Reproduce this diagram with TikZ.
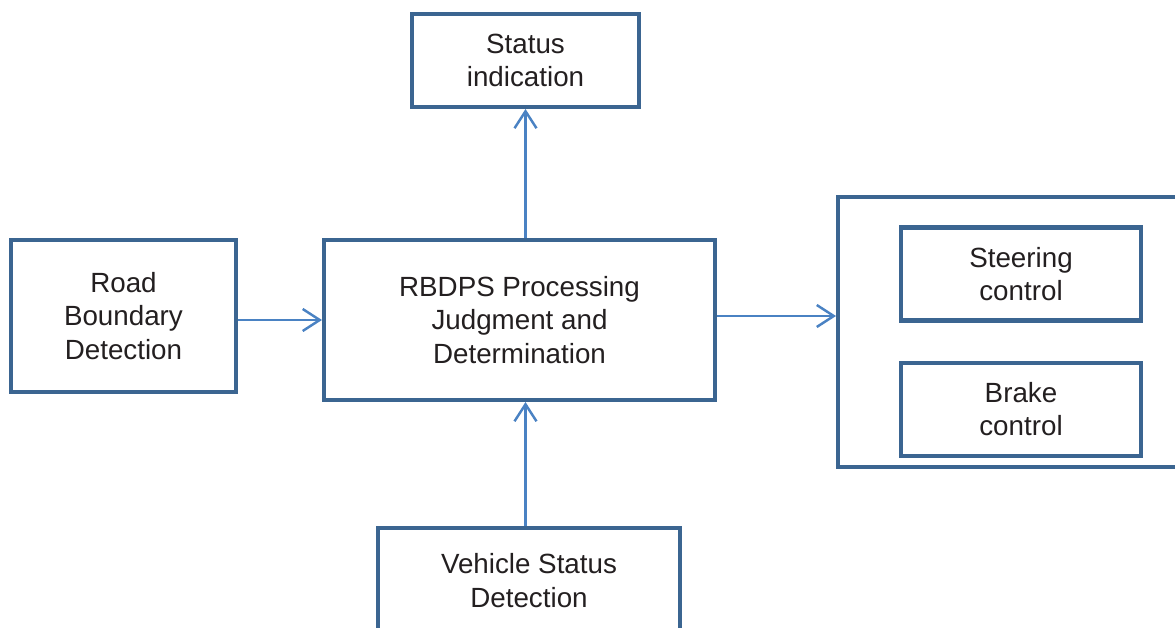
\documentclass[tikz,border=0pt]{standalone}
\usepackage{fontspec}
\setmainfont{Liberation Sans}
\usetikzlibrary{positioning,arrows.meta}

\definecolor{boxblue}{HTML}{3B6591}
\definecolor{arrowblue}{HTML}{4A82C3}
\definecolor{textgrey}{HTML}{231F20}

\tikzset{
    block/.style={draw=boxblue, line width=2.3pt, rectangle, inner sep=0pt,
        align=center, text=textgrey,
        font=\fontsize{15.8pt}{19pt}\selectfont},
    flow/.style={draw=arrowblue, line width=1.4pt,
        -{Straight Barb[length=0.34cm,width=0.44cm,line width=1.4pt]}},
}

\begin{document}
\begin{tikzpicture}
    \useasboundingbox (0,0) rectangle (23.5,12.56);
    \clip (0,0) rectangle (23.5,12.56);

    \node[block, minimum width=7.82cm, minimum height=3.2cm] (rbdps) at (10.39,6.16)
        {RBDPS Processing\\Judgment and\\Determination};
    \node[block, minimum width=4.5cm, minimum height=3.04cm,
        left=1.68cm of rbdps, yshift=0.08cm] (road) {Road\\Boundary\\Detection};
    \node[block, minimum width=4.54cm, minimum height=1.86cm,
        above=2.58cm of rbdps, xshift=0.12cm] (status) {Status\\indication};
    \node[block, minimum width=6.04cm, minimum height=3cm,
        below=2.48cm of rbdps, xshift=0.19cm, text depth=0.91cm] (vehicle) {Vehicle Status\\Detection};
    \node[block, minimum width=7.2cm, minimum height=5.4cm,
        right=2.38cm of rbdps, yshift=-0.24cm] (control) {};
    \node[block, minimum width=4.8cm, minimum height=1.86cm] (steering) at (20.42,7.08)
        {Steering\\control};
    \node[block, minimum width=4.8cm, minimum height=1.86cm,
        below=0.76cm of steering] (brake) {Brake\\control};

    % signal flow
    \draw[flow] (road.east |- rbdps) -- (rbdps.west);
    \draw[flow] (rbdps.east |- road) -- (control.west |- road);
    \draw[flow] (status.south |- rbdps.north) -- (status.south);
    \draw[flow] (vehicle.north -| status.south) -- (status.south |- rbdps.south);
\end{tikzpicture}
\end{document}
